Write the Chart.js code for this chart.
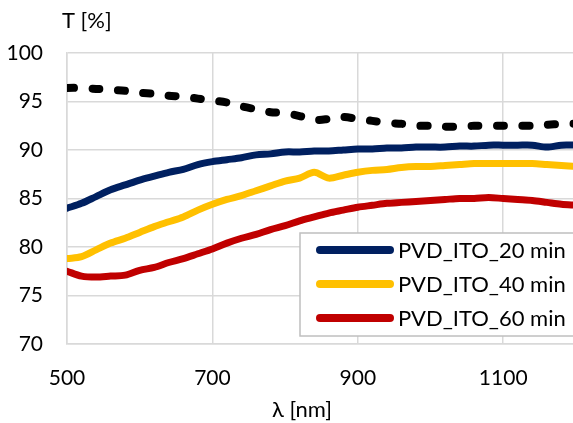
<!DOCTYPE html>
<html>
<head>
<meta charset="utf-8">
<script src="https://cdn.jsdelivr.net/npm/chart.js@4.4.1/dist/chart.umd.min.js"></script>
<style>
  html, body { margin: 0; padding: 0; background: #fff; }
  #wrap { width: 573px; height: 423px; }
</style>
</head>
<body>
<div id="wrap"><canvas id="tChart" width="573" height="423"></canvas></div>
<script>
// bước sóng (nm)
const wavelengths = [500, 520, 540, 560, 580, 600, 620, 640, 660, 680, 700, 720, 740, 760, 780, 800, 820, 840,
    860, 880, 900, 920, 940, 960, 980, 1000, 1020, 1040, 1060, 1080, 1100, 1120, 1140, 1160, 1180, 1200];

// đường tham chiếu (nét đứt đen)
const refSeries = [96.4, 96.4, 96.3, 96.2, 96.1, 95.9, 95.8, 95.6, 95.5, 95.3, 95.1, 94.9, 94.5, 94.2, 93.9, 93.8, 93.5, 93.1,
    93.2, 93.4, 93.2, 93.0, 92.8, 92.7, 92.5, 92.5, 92.4, 92.4, 92.5, 92.5, 92.5, 92.5, 92.5, 92.6, 92.7, 92.7];

const ito20 = [84.0, 84.5, 85.2, 85.9, 86.4, 86.9, 87.3, 87.7, 88.0, 88.5, 88.8, 89.0, 89.2, 89.5, 89.6, 89.8, 89.8, 89.9,
    89.9, 90.0, 90.1, 90.1, 90.2, 90.2, 90.3, 90.3, 90.3, 90.4, 90.4, 90.5, 90.5, 90.5, 90.5, 90.3, 90.5, 90.5];

const ito40 = [78.8, 79.0, 79.7, 80.4, 80.9, 81.5, 82.1, 82.6, 83.1, 83.8, 84.4, 84.9, 85.3, 85.8, 86.3, 86.8, 87.1, 87.7,
    87.1, 87.4, 87.7, 87.9, 88.0, 88.2, 88.3, 88.3, 88.4, 88.5, 88.6, 88.6, 88.6, 88.6, 88.6, 88.5, 88.4, 88.3];

const ito60 = [77.5, 77.0, 76.9, 77.0, 77.1, 77.6, 77.9, 78.4, 78.8, 79.3, 79.8, 80.4, 80.9, 81.3, 81.8, 82.2, 82.7, 83.1,
    83.5, 83.8, 84.1, 84.3, 84.5, 84.6, 84.7, 84.8, 84.9, 85.0, 85.0, 85.1, 85.0, 84.9, 84.8, 84.6, 84.4, 84.3];

const seriesLabels = ['PVD_ITO_20 min', 'PVD_ITO_40 min', 'PVD_ITO_60 min'];
const xTicks = [500, 700, 900, 1100];
const yTicks = [70, 75, 80, 85, 90, 95, 100];

const FONT = "Lato, 'Open Sans', sans-serif";
const GRID = '#d9d9d9';

function toPoints(values) {
    return values.map((v, i) => ({ x: wavelengths[i], y: v }));
}

// vẽ tiêu đề hai trục và chú thích bên trong vùng đồ thị
const overlayPlugin = {
    id: 'overlay',
    afterDraw(chart) {
        const ctx = chart.ctx;
        ctx.save();
        ctx.fillStyle = '#000';
        ctx.font = `22px ${FONT}`;
        ctx.textBaseline = 'middle';
        ctx.textAlign = 'left';
        ctx.fillText('T [%]', 62, 21);

        ctx.textAlign = 'center';
        ctx.fillText('λ [nm]', 302, 410);

        // hộp chú thích
        ctx.textAlign = 'left';
        ctx.fillStyle = '#fff';
        ctx.fillRect(300, 233, 280, 103);
        ctx.strokeStyle = '#bfbfbf';
        ctx.lineWidth = 1.5;
        ctx.strokeRect(300, 233, 280, 103);

        const rows = [250, 284, 318];
        chart.data.datasets.forEach((ds) => {
            const idx = seriesLabels.indexOf(ds.label);
            if (idx < 0) return;
            const y = rows[idx];
            ctx.strokeStyle = ds.borderColor;
            ctx.lineWidth = 8;
            ctx.lineCap = 'round';
            ctx.beginPath();
            ctx.moveTo(320, y);
            ctx.lineTo(390, y);
            ctx.stroke();
            ctx.fillStyle = '#000';
            ctx.fillText(ds.label, 398, y + 1);
        });
        ctx.restore();
    }
};

const ctx = document.getElementById('tChart').getContext('2d');
new Chart(ctx, {
    type: 'line',
    data: {
        datasets: [
            {
                label: 'ref',
                data: toPoints(refSeries),
                borderColor: '#000000',
                borderWidth: 8,
                borderDash: [7, 18.5],
                borderCapStyle: 'round',
                pointRadius: 0,
                tension: 0.3,
            },
            {
                label: seriesLabels[0],
                data: toPoints(ito20),
                borderColor: '#002060',
                borderWidth: 7,
                borderCapStyle: 'round',
                pointRadius: 0,
                tension: 0.3,
            },
            {
                label: seriesLabels[1],
                data: toPoints(ito40),
                borderColor: '#FFC000',
                borderWidth: 7,
                borderCapStyle: 'round',
                pointRadius: 0,
                tension: 0.3,
            },
            {
                label: seriesLabels[2],
                data: toPoints(ito60),
                borderColor: '#C00000',
                borderWidth: 7,
                borderCapStyle: 'round',
                pointRadius: 0,
                tension: 0.3,
            },
        ],
    },
    options: {
        responsive: false,
        animation: false,
        layout: { padding: { top: 53, right: 0, bottom: 0, left: 0 } },
        plugins: {
            legend: { display: false },
            tooltip: { enabled: false },
        },
        scales: {
            x: {
                type: 'linear',
                min: 500,
                max: 1196,
                afterBuildTicks: (scale) => { scale.ticks = xTicks.map(v => ({ value: v })); },
                afterFit: (scale) => { scale.height = 79; },
                grid: { color: GRID, lineWidth: 1.5, drawTicks: false },
                border: { color: GRID, width: 1.5 },
                ticks: {
                    color: '#000',
                    font: { family: FONT, size: 21 },
                    padding: 22,
                    maxRotation: 0,
                    callback: (v) => String(v),
                },
            },
            y: {
                min: 70,
                max: 100,
                afterBuildTicks: (scale) => { scale.ticks = yTicks.map(v => ({ value: v })); },
                afterFit: (scale) => { scale.width = 67; },
                grid: { color: GRID, lineWidth: 1.5, drawTicks: false },
                border: { color: GRID, width: 1.5 },
                ticks: {
                    color: '#000',
                    font: { family: FONT, size: 21 },
                    padding: 24,
                    callback: (v) => String(v),
                },
            },
        },
    },
    plugins: [overlayPlugin],
});
</script>
</body>
</html>
